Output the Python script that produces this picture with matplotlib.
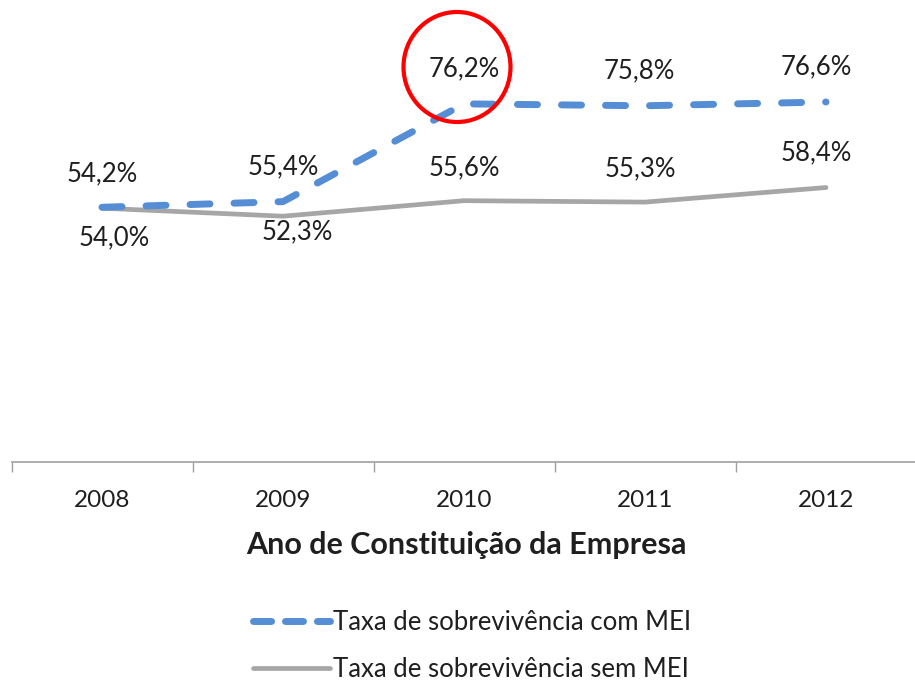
import matplotlib
matplotlib.use("Agg")
import matplotlib.pyplot as plt
from matplotlib.lines import Line2D
from matplotlib.patches import Ellipse

years = ["2008", "2009", "2010", "2011", "2012"]
com_mei = [54.2, 55.4, 76.2, 75.8, 76.6]
sem_mei = [54.0, 52.3, 55.6, 55.3, 58.4]
com_labels = ["54,2%", "55,4%", "76,2%", "75,8%", "76,6%"]
sem_labels = ["54,0%", "52,3%", "55,6%", "55,3%", "58,4%"]
name_com = "Taxa de sobrevivência com MEI"
name_sem = "Taxa de sobrevivência sem MEI"
xlabel = "Ano de Constituição da Empresa"

plt.rcParams['font.family'] = ['Lato', 'DejaVu Sans']
plt.rcParams['lines.scale_dashes'] = False

BLUE = "#558ED5"
GRAY = "#A6A6A6"
TXT = "#1f1f1f"
FS = 18.5
FS_TICK = 17.5

W, H = 915, 684
fig = plt.figure(figsize=(W / 100, H / 100), dpi=100)
left_px, right_px = 11.5, 916.5
ax = fig.add_axes([left_px / W, (H - 462) / H, (right_px - left_px) / W, 462 / H])
ax.set_xlim(-0.5, 4.5)
ax.set_ylim(0, 98.3)

x = list(range(len(years)))
l_sem, = ax.plot(x, sem_mei, color=GRAY, lw=3.4, solid_capstyle='round', zorder=2)
l_com, = ax.plot(x, com_mei, color=BLUE, lw=5.0, dash_capstyle='round',
                 zorder=3)
l_com.set_dashes((14.4, 17.3))

# data labels (offsets in points)
com_off = [(0, 24), (0, 25), (0, 25), (-4, 25), (-7, 25)]
sem_off = [(9, -21), (10, -11), (0, 24), (-3, 24), (-7, 25)]
for i in x:
    ax.annotate(com_labels[i], (i, com_mei[i]), xytext=com_off[i], textcoords='offset points',
                ha='center', va='center', fontsize=FS, color=TXT)
    ax.annotate(sem_labels[i], (i, sem_mei[i]), xytext=sem_off[i], textcoords='offset points',
                ha='center', va='center', fontsize=FS, color=TXT)

for s in ['top', 'left', 'right']:
    ax.spines[s].set_visible(False)
ax.spines['bottom'].set_color("#A0A0A0")
ax.spines['bottom'].set_linewidth(1.2)
ax.set_yticks([])
ax.set_xticks(x)
ax.set_xticklabels(years, fontsize=FS_TICK, color=TXT)
ax.tick_params(axis='x', which='major', length=0, pad=20)
ax.set_xticks([i - 0.5 for i in range(len(years) + 1)], minor=True)
ax.tick_params(axis='x', which='minor', length=7.5, width=1.0, color="#A0A0A0")

fig.text(466 / W, 1 - 545 / H, xlabel, ha='center', va='center', fontsize=22,
         fontweight='bold', color=TXT)

h_com = Line2D([], [], color=BLUE, lw=5.0, dash_capstyle='round', dashes=(13, 10))
h_sem = Line2D([], [], color=GRAY, lw=3.4, solid_capstyle='round')
leg = fig.legend([h_com, h_sem], [name_com, name_sem], loc='upper left',
                 bbox_to_anchor=(253 / W, 1 - 610 / H), frameon=False,
                 fontsize=FS, handlelength=3.0, handletextpad=0.1,
                 labelspacing=0.85, borderpad=0, borderaxespad=0)
for t in leg.get_texts():
    t.set_color(TXT)

circ = Ellipse((457 / W, 1 - 67 / H), 107 / W, 110 / H, transform=fig.transFigure,
               fill=False, edgecolor="#FF0000", lw=3.0, zorder=10)
fig.add_artist(circ)

fig.savefig("out.png", dpi=100)
